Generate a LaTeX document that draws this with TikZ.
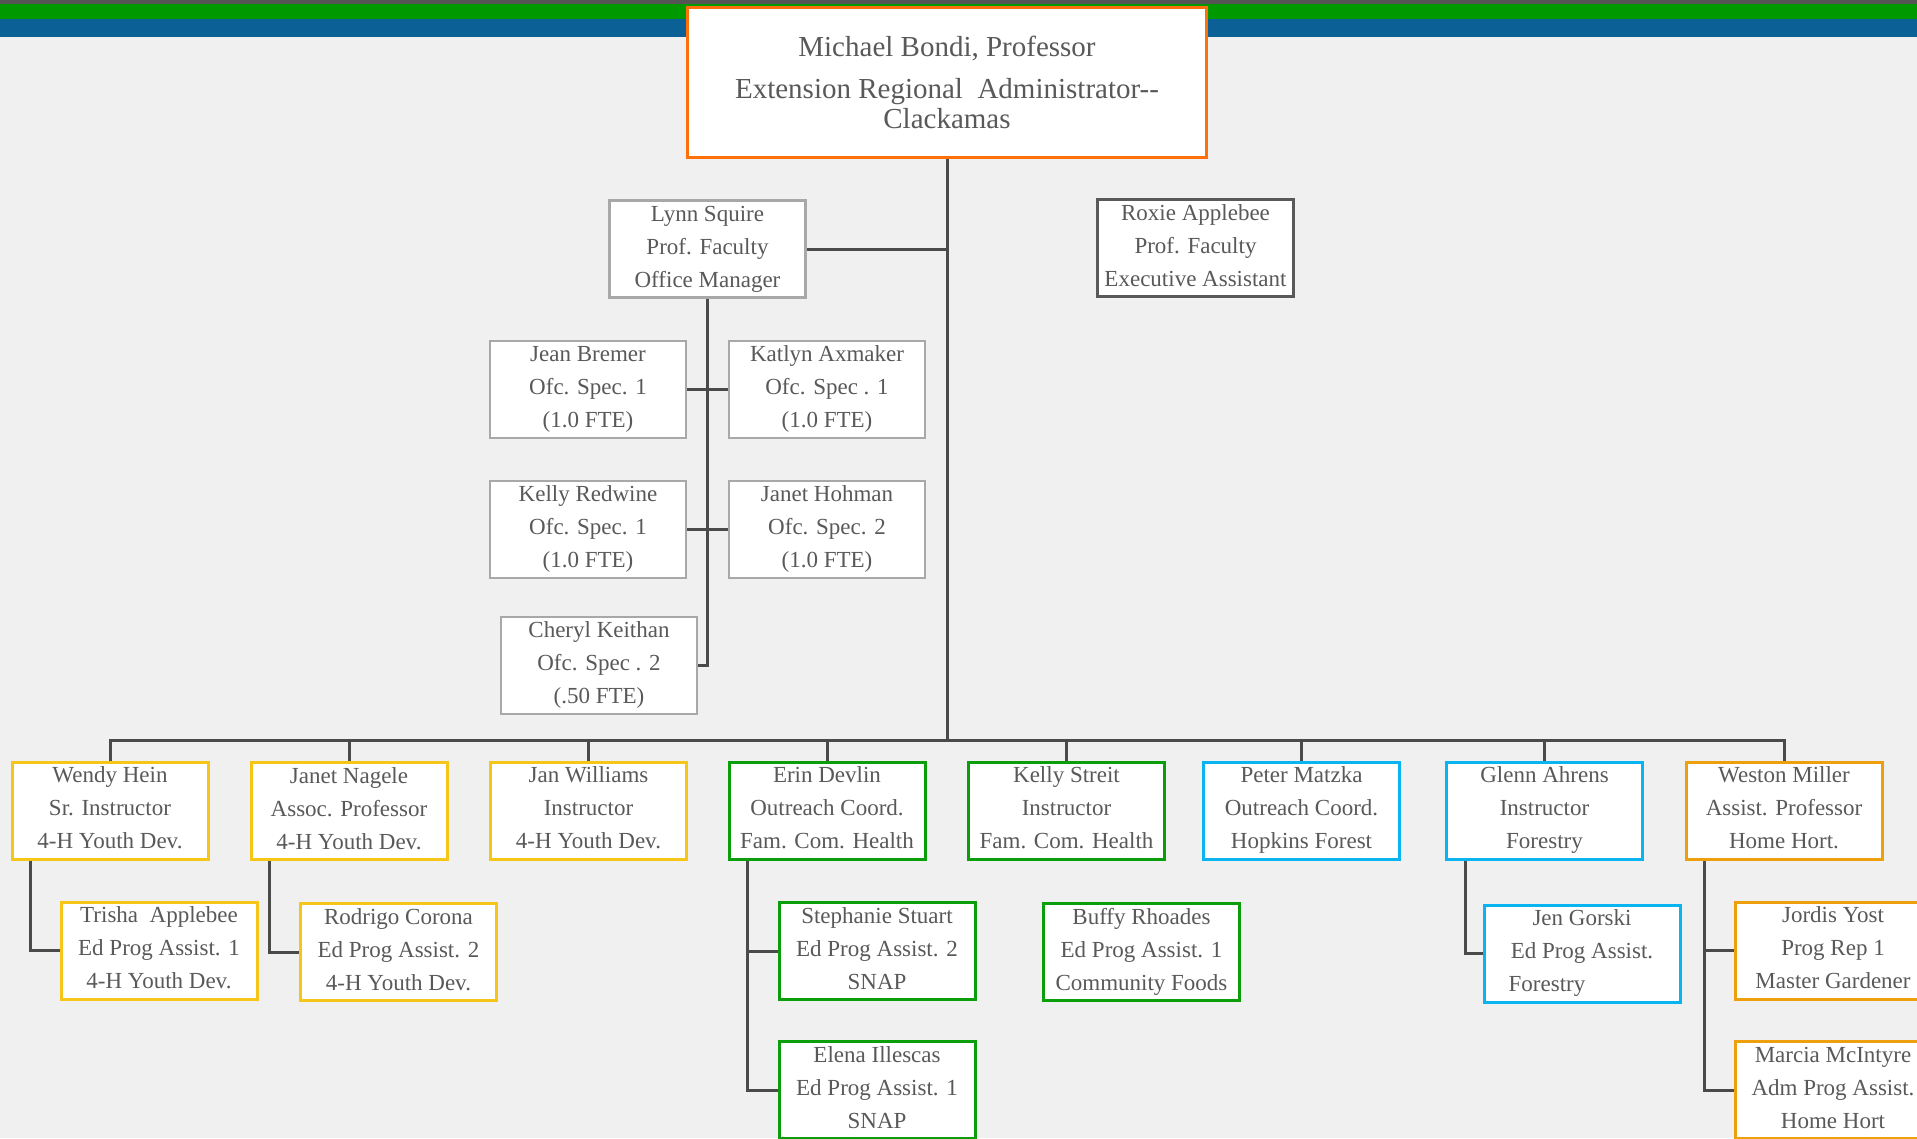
\documentclass[tikz,border=0pt]{standalone}
\usepackage{fontspec}
\setmainfont{Liberation Serif}
\usepackage{xcolor}
\usepackage{tikz}
\usetikzlibrary{calc}
\definecolor{bg}{HTML}{F0F0F0}
\definecolor{ink}{HTML}{595959}
\definecolor{wire}{HTML}{4A4A4A}
\definecolor{barg}{HTML}{555555}
\definecolor{barn}{HTML}{009A00}
\definecolor{barb}{HTML}{0B6196}
\definecolor{headc}{HTML}{FF6F0A}
\definecolor{ofcc}{HTML}{A8A8A8}
\definecolor{exac}{HTML}{595959}
\definecolor{youthc}{HTML}{F5C518}
\definecolor{healthc}{HTML}{0A9E0A}
\definecolor{forestc}{HTML}{0AB4F0}
\definecolor{hortc}{HTML}{EDA00C}
\newcommand\cardstrut{\rule[-5pt]{0pt}{25pt}}
\tikzset{
  frame/.style={draw, fill=white, line width=3pt, align=center, text=ink, inner sep=0pt},
  box/.style={frame, minimum width=196pt, minimum height=97pt,
    font=\fontsize{23}{33}\selectfont,
    execute at begin node=\cardstrut, execute at end node=\cardstrut},
  head/.style={frame, draw=headc, line width=3.5pt, minimum width=519pt, minimum height=150pt,
    font=\fontsize{29}{30}\selectfont},
  ofc/.style={box, draw=ofcc, line width=2.5pt},
  exa/.style={box, draw=exac},
  youth/.style={box, draw=youthc},
  health/.style={box, draw=healthc},
  forest/.style={box, draw=forestc},
  hort/.style={box, draw=hortc},
  link/.style={draw=wire, line width=3pt},
}
\begin{document}
\begin{tikzpicture}[x=1pt, y=-1pt]
  \useasboundingbox (0,0) rectangle (1917,1138);
  \clip (0,0) rectangle (1917,1138);
  \fill[bg] (0,0) rectangle (1917,1138);
  % colour bars along the top
  \fill[barg] (0,0) rectangle (1917,4);
  \fill[barn] (0,4) rectangle (1917,19);
  \fill[barb] (0,19) rectangle (1917,37);
  \coordinate (bus) at (947,740);

  \node[head] (bondi) at (947,82.5)
    {Michael Bondi, Professor\\[12pt] Extension Regional\ \ Administrator-{}-\\ Clackamas};

  % office staff
  \node[ofc] (squire) at (707.5,249) {Lynn Squire\\ Prof. Faculty\\ Office Manager};
  \node[exa] (roxie) at (1195.5,248) {Roxie Applebee\\ Prof. Faculty\\ Executive Assistant};
  \node[ofc] (bremer) at (588,389.5) {Jean Bremer\\ Ofc. Spec. 1\\ (1.0 FTE)};
  \node[ofc] (axmaker) at (827,389.5) {Katlyn Axmaker\\ Ofc. Spec . 1\\ (1.0 FTE)};
  \node[ofc] (redwine) at (588,529.5) {Kelly Redwine\\ Ofc. Spec. 1\\ (1.0 FTE)};
  \node[ofc] (hohman) at (827,529.5) {Janet Hohman\\ Ofc. Spec. 2\\ (1.0 FTE)};
  \node[ofc] (keithan) at (599,665.5) {Cheryl Keithan\\ Ofc. Spec . 2\\ (.50 FTE)};

  % program row
  \node[youth] (hein) at (110,810.5) {Wendy Hein\\ Sr. Instructor\\ 4-H Youth Dev.};
  \node[youth] (nagele) at (349,811) {Janet Nagele\\ Assoc. Professor\\ 4-H Youth Dev.};
  \node[youth] (williams) at (588.5,810.5) {Jan Williams\\ Instructor\\ 4-H Youth Dev.};
  \node[health] (devlin) at (827,810.5) {Erin Devlin\\ Outreach Coord.\\ Fam. Com. Health};
  \node[health] (streit) at (1066.5,810.5) {Kelly Streit\\ Instructor\\ Fam. Com. Health};
  \node[forest] (matzka) at (1301.5,810.5) {Peter Matzka\\ Outreach Coord.\\ Hopkins Forest};
  \node[forest] (ahrens) at (1544.5,810.5) {Glenn Ahrens\\ Instructor\\ Forestry};
  \node[hort] (miller) at (1784,810.5) {Weston Miller\\ Assist. Professor\\ Home Hort.};

  % assistants
  \node[youth] (trisha) at (159,950.5) {Trisha\ \ Applebee\\ Ed Prog Assist. 1\\ 4-H Youth Dev.};
  \node[youth] (corona) at (398.5,952) {Rodrigo Corona\\ Ed Prog Assist. 2\\ 4-H Youth Dev.};
  \node[health] (stuart) at (877,951) {Stephanie Stuart\\ Ed Prog Assist. 2\\ SNAP};
  \node[health] (illescas) at (877,1090) {Elena Illescas\\ Ed Prog Assist. 1\\ SNAP};
  \node[health] (rhoades) at (1141.5,951.5) {Buffy Rhoades\\ Ed Prog Assist. 1\\ Community Foods};
  \node[forest] (gorski) at (1582,953.5) {Jen Gorski\\ Ed Prog Assist.\\ Forestry\hspace*{70pt}};
  \node[hort] (yost) at (1833,950.5) {Jordis Yost\\ Prog Rep 1\\ Master Gardener};
  \node[hort] (mcintyre) at (1833,1090) {Marcia McIntyre\\ Adm Prog Assist.\\ Home Hort};

  % connectors
  \draw[link] (bondi.south) -- (bondi.south |- bus);
  \draw[link] (squire.east) -- (squire.east -| bondi.south);
  \draw[link] (squire.south) -- (squire.south |- keithan.east) -- (keithan.east);
  \draw[link] (bremer.east) -- (axmaker.west);
  \draw[link] (redwine.east) -- (hohman.west);
  \draw[link] (hein.north) -- (hein.north |- bus) -- (miller.north |- bus) -- (miller.north);
  \foreach \n in {nagele,williams,devlin,streit,matzka,ahrens}
    \draw[link] (\n.north) -- (\n.north |- bus);
  \draw[link] ($(hein.south west)+(20,0)$) |- (trisha.west);
  \draw[link] ($(nagele.south west)+(20,0)$) |- (corona.west);
  \draw[link] ($(devlin.south west)+(20,0)$) |- (stuart.west);
  \draw[link] ($(devlin.south west)+(20,0)$) |- (illescas.west);
  \draw[link] ($(ahrens.south west)+(20,0)$) |- (gorski.west);
  \draw[link] ($(miller.south west)+(20,0)$) |- (yost.west);
  \draw[link] ($(miller.south west)+(20,0)$) |- (mcintyre.west);
\end{tikzpicture}
\end{document}
